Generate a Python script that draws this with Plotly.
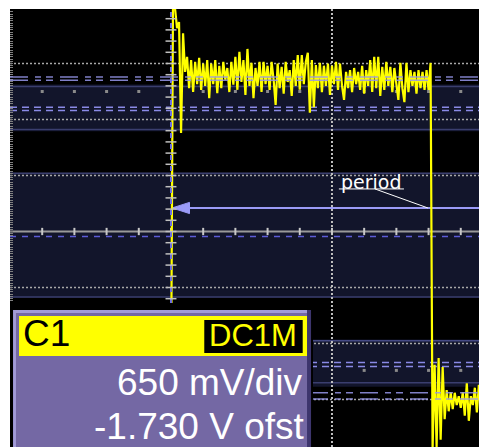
import plotly.graph_objects as go

# ---------------- data (oscilloscope screen units: divisions) ----------------
T0 = -1.025      # time of first sample (div)
DT = 0.0125      # sample interval (div)
ch1_div = [
    -2.94, -2.94, -2.94,
    4.10, 3.99, 3.63, 3.74, 1.76, 3.54, 2.85, 3.12, 2.56, 3.06,
    2.49, 3.03, 2.63, 3.10, 2.53, 3.00, 2.60, 3.06, 2.38, 3.00,
    2.63, 3.06, 2.47, 2.96, 2.56, 3.03, 2.71, 2.92, 2.49, 3.03,
    2.62, 3.12, 2.53, 3.21, 2.67, 3.06, 2.44, 3.26, 2.60, 3.01,
    2.38, 2.92, 2.60, 3.03, 2.49, 3.03, 2.63, 2.96, 2.53, 3.03,
    2.71, 2.26, 3.00, 2.56, 2.94, 2.46, 3.03, 2.67, 2.88, 2.42,
    3.06, 2.60, 3.15, 2.53, 3.15, 2.63, 3.03, 3.19, 2.12, 3.06,
    2.22, 2.97, 2.56, 3.01, 2.49, 2.96, 2.60, 3.00, 2.44, 2.96,
    2.63, 3.03, 2.53, 3.00, 2.60, 2.35, 2.85, 2.56, 2.88, 2.49,
    2.92, 2.63, 2.85, 2.53, 2.96, 2.46, 2.88, 2.60, 3.06, 2.49,
    3.12, 2.56, 3.12, 2.42, 2.94, 2.53, 3.03, 2.60, 2.94, 2.49,
    2.92, 2.63, 2.35, 3.01, 2.56, 2.31, 3.01, 2.49, 2.88, 2.60,
    2.85, 2.46, 2.88, 2.56, 2.85, 2.53, 2.88, 2.53, 3.01,
    -3.90, -2.38, -3.85, -2.26, -3.72, -2.42, -3.35, -2.83, -3.21, -2.87,
    -3.17, -2.88, -3.10, -2.94, -3.15, -2.87, -3.29, -2.71, -3.38, -2.94,
    -3.10, -2.79, -3.23, -2.74, -3.15, -2.90, -3.23, -2.78, -3.10, -2.97,
]
t_div = [T0 + i * DT for i in range(len(ch1_div))]

minor_x = [-1.8, -1.6, -1.4, -1.2, -0.8, -0.6, -0.4, -0.2, 0.2, 0.4, 0.6, 0.8]
axis_tick_x = [-1.8, -1.6, -1.4, -1.2, -1.0, -0.8, -0.6, -0.4, -0.2, 0.0, 0.2, 0.4, 0.6, 0.8]
graticule_y = [3, 2, 1, -1, -2, -3]
marker_tick_y = [round(-1.2 + 0.2 * k, 1) for k in range(26)]

chan_label = "C1"
coupling_label = "DC1M"
scale_label = "650 mV/div"
offset_label = "-1.730 V ofst"
meas_label = "period"

# ---------------- figure ----------------
XL, XR = -2.0, 0.963
YB, YT = -3.848, 3.973

def hline(y, x0, x1, color, width, dash="solid", layer="below"):
    return dict(type="line", xref="x", yref="y", x0=x0, x1=x1, y0=y, y1=y,
                line=dict(color=color, width=width, dash=dash), layer=layer)

def vline(x, y0, y1, color, width, dash="solid", layer="below"):
    return dict(type="line", xref="x", yref="y", x0=x, x1=x, y0=y0, y1=y1,
                line=dict(color=color, width=width, dash=dash), layer=layer)

def rect(x0, x1, y0, y1, fill, layer="below", lc=None, lw=0):
    return dict(type="rect", xref="x", yref="y", x0=x0, x1=x1, y0=y0, y1=y1,
                fillcolor=fill, line=dict(color=lc or fill, width=lw), layer=layer)

shapes = []
# bands
BAND = "#12152b"
EDGE = "#3a3e6e"
shapes += [rect(XL, XR, 1.79, 2.625, BAND), hline(2.59, XL, XR, EDGE, 1.5), hline(1.82, XL, XR, EDGE, 1.5)]
shapes += [rect(XL, XR, -1.18, 1.05, BAND), hline(1.04, XL, XR, EDGE, 1.5), hline(-1.17, XL, XR, EDGE, 1.5)]
shapes += [rect(XL, XR, -2.77, -1.93, BAND), hline(-1.95, XL, XR, "#454a85", 1.5), hline(-2.70, XL, XR, EDGE, 1.5)]
# dotted graticule
for gy in graticule_y:
    shapes.append(hline(gy, XL, XR, "#a8a8a8", 1.5, "2px,2px"))
shapes.append(vline(0, YB, YT, "#c0c0c0", 2, "2px,2px"))
# dashed reference lines
for gy in (2.22, 2.16, -2.34, -2.41):
    shapes.append(hline(gy, XL, XR, "#8a8ae6", 1.5, "7px,5px"))
shapes.append(hline(-0.09, XL, XR, "#5c5cd6", 1.5, "6px,6px"))
# center axis with ticks
shapes.append(hline(0, XL, XR, "#9a9a9a", 2))
for tx in axis_tick_x:
    shapes.append(vline(tx, -0.065, 0.065, "#c8c8c8", 2))
# cursor arrow line
shapes.append(hline(0.42, -0.99, XR, "#9b9bf7", 2))
shapes.append(dict(type="path", xref="x", yref="y",
                   path="M -0.993 0.42 L -0.885 0.52 L -0.885 0.32 Z",
                   fillcolor="#9b9bf7", line=dict(color="#9b9bf7", width=1), layer="below"))

# above-trace items
DD = "18px,7px,6px,5px,7px,7px"
for gy in (2.76, 2.70, -2.88, -2.99):
    shapes.append(hline(gy, XL, XR, "rgba(150,150,235,0.85)", 1.5, DD, "above"))
# trigger marker
shapes.append(vline(-1.0, -1.277, YT, "#6f6fe0", 2, "5px,6px", "above"))
for ty in marker_tick_y:
    shapes.append(hline(ty, -1.034, -0.966, "#c0c0c0", 1.5, layer="above"))
# period label lines
shapes.append(hline(0.76, 0.043, 0.447, "white", 1, layer="above"))
shapes.append(dict(type="line", xref="x", yref="y", x0=0.267, y0=0.76, x1=0.596, y1=0.42,
                   line=dict(color="white", width=1), layer="above"))
# info box
shapes.append(rect(XL, -0.118, YB - 0.1, -1.277, "black", "above"))
shapes.append(rect(-1.981, -0.130, YB - 0.1, -1.402, "#3d356d", "above"))
shapes.append(rect(-1.981, -0.155, YB - 0.1, -1.402, "#a29bd8", "above"))
shapes.append(rect(-1.963, -0.155, YB - 0.1, -1.455, "#7468a4", "above"))
shapes.append(rect(-1.944, -0.155, -2.223, -1.509, "#ffff00", "above"))
shapes.append(rect(-0.801, -0.174, -2.19, -1.56, "black", "above", "#ffff00", 2.5))

fig = go.Figure()
fig.add_trace(go.Scatter(x=minor_x + minor_x, y=[2.50] * len(minor_x) + [-2.48] * len(minor_x),
                         mode="markers", marker=dict(symbol="square", size=3, color="#8a8a8a"),
                         hoverinfo="skip"))
fig.add_trace(go.Scatter(x=t_div, y=ch1_div, mode="lines",
                         line=dict(color="#ffff00", width=2.2), hoverinfo="skip"))

FONT = "Liberation Sans, Arial, sans-serif"
annotations = [
    dict(x=0.043, y=0.88, text=meas_label, xanchor="left", yanchor="middle",
         font=dict(family="DejaVu Sans", size=19, color="white")),
    dict(x=-1.93, y=-1.83, text=chan_label, xanchor="left", yanchor="middle",
         font=dict(family=FONT, size=37, color="black")),
    dict(x=-0.49, y=-1.86, text=coupling_label, xanchor="center", yanchor="middle",
         font=dict(family=FONT, size=31, color="#ffff00")),
    dict(x=-0.165, y=-2.705, text=scale_label, xanchor="right", yanchor="middle",
         font=dict(family=FONT, size=37, color="white")),
    dict(x=-0.155, y=-3.48, text=offset_label, xanchor="right", yanchor="middle",
         font=dict(family=FONT, size=37, color="white")),
]
for a in annotations:
    a.update(xref="x", yref="y", showarrow=False)

# page body has an 8px margin, so the figure is sized to end at the window edge
fig.update_layout(
    width=479, height=439, margin=dict(l=2, r=0, t=1, b=0),
    paper_bgcolor="white", plot_bgcolor="black", showlegend=False,
    shapes=shapes, annotations=annotations,
    xaxis=dict(range=[XL, XR], showgrid=False, zeroline=False, showticklabels=False,
               ticks="", fixedrange=True),
    yaxis=dict(range=[YB, YT], showgrid=False, zeroline=False, showticklabels=False,
               ticks="inside", tick0=0, dtick=0.04, ticklen=3, tickwidth=1,
               tickcolor="#808080", fixedrange=True),
)
fig.write_html("out.html", config={"displayModeBar": False})
